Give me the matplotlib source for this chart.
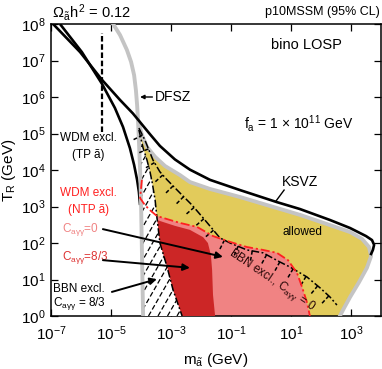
import numpy as np
import matplotlib
matplotlib.use("Agg")
import matplotlib.pyplot as plt
from matplotlib.patches import Polygon

plt.rcParams['font.family'] = ['Liberation Sans', 'DejaVu Sans']
plt.rcParams['mathtext.fontset'] = 'custom'
plt.rcParams['mathtext.rm'] = 'Liberation Sans'
plt.rcParams['mathtext.it'] = 'Liberation Sans'
plt.rcParams['mathtext.bf'] = 'Liberation Sans:bold'

# curves as log10(m / GeV), log10(T_R / GeV)
dfsz_tot_lm = [-6.70, -5.97, -5.30, -4.87, -4.60, -4.37, -4.23, -4.13, -4.07, -4.03]
dfsz_tot_lt = [8.00, 7.23, 6.36, 5.70, 5.18, 4.60, 4.14, 3.73, 3.40, 3.04]

ksvz_tot_lm = [-6.93, -6.03, -5.30, -4.70, -4.27, -4.00, -3.70, -3.37, -2.87, -2.37,
               -1.70, -0.70, 0.53, 1.30, 2.30, 2.97, 3.50, 3.70, 3.77, 3.73, 3.67]
ksvz_tot_lt = [8.00, 7.23, 6.47, 5.92, 5.55, 5.28, 4.98, 4.66, 4.29, 4.01,
               3.73, 3.45, 3.12, 2.93, 2.63, 2.41, 2.19, 2.08, 1.95, 1.81, 1.70]

dfsz_tp_lm = [-4.93, -4.70, -4.47, -4.33, -4.23, -4.17, -4.13, -4.10, -4.07, -4.03, -4.00, -3.97, -3.93]
dfsz_tp_lt = [8.00, 7.70, 7.29, 6.96, 6.60, 6.19, 5.78, 5.37, 4.82, 4.00, 3.18, 1.81, 0.00]

ksvz_tp_lm = [-4.10, -3.97, -3.80, -3.53, -3.20, -2.70, -2.37, -1.70, -0.70, 0.40, 1.30,
              2.30, 2.97, 3.37, 3.60, 3.67, 3.53, 3.27, 2.97, 2.73, 2.63]
ksvz_tp_lt = [5.37, 4.96, 4.63, 4.36, 4.11, 3.86, 3.67, 3.48, 3.26, 2.99, 2.77,
              2.49, 2.30, 2.11, 1.89, 1.64, 1.32, 0.93, 0.52, 0.16, 0.00]

# WDM / BBN exclusion, C_agg = 0 (red dash-dot)
wdm0_lm = [-3.97, -4.03, -3.87, -3.70, -3.47, -3.03, -2.70, -2.13, -1.60, -1.03, -0.47,
           0.07, 0.53, 0.90, 1.20, 1.37, 1.53, 1.63]
wdm0_lt = [3.73, 3.23, 3.04, 2.90, 2.74, 2.63, 2.55, 2.44, 2.19, 2.03, 1.89,
           1.81, 1.73, 1.53, 1.18, 0.79, 0.38, 0.00]

# exclusion, C_agg = 8/3 (dark red)
wdm83_lm = [-3.47, -2.87, -2.37, -1.93, -1.77, -1.67, -1.63, -1.60, -1.53]
wdm83_lt = [2.63, 2.47, 2.36, 2.16, 2.00, 1.67, 1.26, 0.58, 0.00]

# BBN exclusion C_agg = 8/3 (hatched edge)
bbn83_lm = [-4.07, -3.93, -3.80, -3.70, -3.63, -3.53, -3.47, -3.37, -3.13, -2.93, -2.63]
bbn83_lt = [5.10, 4.60, 4.27, 3.95, 3.67, 3.18, 2.71, 2.00, 1.34, 0.71, 0.00]

# BBN exclusion C_agg = 0 (dash-dot with ticks)
bbn0_lm = [-4.07, -3.87, -3.60, -3.37, -3.13, -2.70, -2.30, -1.87, -1.37, -1.03, -0.47,
           0.07, 0.63, 0.97, 1.53, 1.97, 2.30, 2.53]
bbn0_lt = [5.15, 4.82, 4.27, 3.95, 3.73, 3.37, 3.04, 2.63, 2.14, 2.00, 1.81,
           1.73, 1.48, 1.34, 1.07, 0.77, 0.52, 0.30]

wdm_tp_m = 10 ** -5.3
wdm_tp_lt = [5.05, 7.75]


def p(lm, lt):
    return 10 ** np.asarray(lm, float), 10 ** np.asarray(lt, float)


YELLOW = '#e2cb5b'
PINK = '#f08383'
DRED = '#cc2626'
RED = '#ff2020'
GRAY = '#c4c4c4'

fig = plt.figure(figsize=(3.82, 3.69), dpi=100)
ax = fig.add_axes([51 / 382, 53 / 369, 330 / 382, 292 / 369])
ax.set_xscale('log')
ax.set_yscale('log')
ax.set_xlim(1e-7, 1e4)
ax.set_ylim(1, 1e8)

# yellow allowed band
dm, dt = p(dfsz_tp_lm, dfsz_tp_lt)
km, kt = p(ksvz_tp_lm, ksvz_tp_lt)
sel = dt <= 10 ** 5.37
ax.fill(np.concatenate([dm[sel], km[::-1]]), np.concatenate([dt[sel], kt[::-1]]),
        color=YELLOW, lw=0, zorder=1)

# pink region C=0
wm, wt = p(wdm0_lm, wdm0_lt)
ax.fill(np.concatenate([wm, [10 ** -3.93]]), np.concatenate([wt, [1.0]]),
        color=PINK, lw=0, zorder=2)

# dark red region C=8/3
rm, rt = p(wdm83_lm, wdm83_lt)
ax.fill(np.concatenate([rm, [10 ** -3.93, 10 ** -3.93]]), np.concatenate([rt, [1.0, rt[0]]]),
        color=DRED, lw=0, zorder=3)

# hatched BBN region
bm, bt = p(bbn83_lm, bbn83_lt)
sel2 = dt < bt[0]
hx = np.concatenate([bm, dm[sel2][::-1]])
hy = np.concatenate([bt, dt[sel2][::-1]])
hatch = Polygon(np.column_stack([hx, hy]), closed=True, facecolor='white', lw=0, zorder=4)
ax.add_patch(hatch)
for x0 in np.arange(-1.0, 1.2, 9.5 / 330):
    ln, = ax.plot([x0, x0 + 168 / 330], [0, 1], transform=ax.transAxes, color='black',
                  lw=0.9, dashes=(4, 2), zorder=4.5)
    ln.set_clip_path(hatch)

# relic density curves
ax.plot(*p(dfsz_tot_lm, dfsz_tot_lt), color='black', lw=1.9, zorder=5, solid_capstyle='butt')
ax.plot(*p(ksvz_tp_lm, ksvz_tp_lt), color=GRAY, lw=2.8, zorder=5.5)
ax.plot(dm, dt, color=GRAY, lw=2.8, zorder=5.5)
ax.plot(*p(ksvz_tot_lm, ksvz_tot_lt), color='black', lw=1.9, zorder=6)

# dash-dot boundaries
ax.plot(bm, bt, color='black', lw=1.1, dashes=(5, 1.6, 1.2, 1.6), zorder=7)
b0m, b0t = p(bbn0_lm, bbn0_lt)
ax.plot(b0m, b0t, color='black', lw=1.1, dashes=(5, 1.6, 1.2, 1.6), zorder=7)
ax.plot(wm, wt, color=RED, lw=1.3, dashes=(5, 1.6, 1.2, 1.6), zorder=7.5)

# ticks on the C=0 BBN line
pts = ax.transData.transform(np.column_stack([b0m, b0t]))
seg = np.hypot(np.diff(pts[:, 0]), np.diff(pts[:, 1]))
s = np.concatenate([[0], np.cumsum(seg)])
inv = ax.transData.inverted()
for d in np.arange(8, s[-1] - 4, 15):
    i = min(np.searchsorted(s, d) - 1, len(seg) - 1)
    t = (d - s[i]) / seg[i]
    p0 = pts[i] + t * (pts[i + 1] - pts[i])
    v = (pts[i + 1] - pts[i]) / seg[i]
    n = np.array([v[1], -v[0]])
    q = inv.transform(np.vstack([p0, p0 + 11 * n]))
    ax.plot(q[:, 0], q[:, 1], color='black', lw=1.1, dashes=(2.5, 1.5), zorder=7)

# WDM TP vertical dashed line
ax.plot([wdm_tp_m, wdm_tp_m], 10 ** np.array(wdm_tp_lt), color='black', lw=1.6,
        dashes=(2.5, 1.2), zorder=7)

# labels
def axf(px, py):
    return ((px - 51) / 330, (316 - py) / 292)

ax.text(*axf(88, 138), 'WDM excl.', transform=ax.transAxes, ha='center', va='center', fontsize=8.5, zorder=9)
ax.text(*axf(88, 155), '(TP ã)', transform=ax.transAxes, ha='center', va='center', fontsize=8.5, zorder=9)
ax.text(*axf(88, 193), 'WDM excl.', transform=ax.transAxes, ha='center', va='center', fontsize=8.5, color=RED, zorder=9)
ax.text(*axf(89, 210), '(NTP ã)', transform=ax.transAxes, ha='center', va='center', fontsize=8.5, color=RED, zorder=9)
ax.text(*axf(62, 229), r'C$_{a\gamma\gamma}$=0', transform=ax.transAxes, ha='left', va='center', fontsize=8.5, color=PINK, zorder=9)
ax.text(*axf(62, 258), r'C$_{a\gamma\gamma}$=8/3', transform=ax.transAxes, ha='left', va='center', fontsize=8.5, color='#dd3333', zorder=9)
ax.text(*axf(53, 289), 'BBN excl.', transform=ax.transAxes, ha='left', va='center', fontsize=8.5, zorder=9)
ax.text(*axf(53, 304), r'C$_{a\gamma\gamma}$ = 8/3', transform=ax.transAxes, ha='left', va='center', fontsize=8.5, zorder=9)
ax.text(*axf(302, 232), 'allowed', transform=ax.transAxes, ha='center', va='center', fontsize=8.5, zorder=9)
ax.text(*axf(300, 182), 'KSVZ', transform=ax.transAxes, ha='center', va='center', fontsize=10, zorder=9)
ax.text(*axf(155, 97), 'DFSZ', transform=ax.transAxes, ha='left', va='center', fontsize=10, zorder=9)
ax.text(*axf(306, 45), 'bino LOSP', transform=ax.transAxes, ha='center', va='center', fontsize=10.5, zorder=9)
ax.text(*axf(299, 123), r'f$_{\rm a}$ = 1 $\times$ 10$^{11}$ GeV', transform=ax.transAxes,
        ha='center', va='center', fontsize=10, zorder=9)
ax.text(*axf(272, 280), r'BBN excl., C$_{a\gamma\gamma}$ = 0', transform=ax.transAxes,
        ha='center', va='center', fontsize=8.5, rotation=-34, color='#2a0808', zorder=9)

arrow = dict(arrowstyle='-|>', color='black', lw=1.4, mutation_scale=10, shrinkA=0, shrinkB=0)
ax.annotate('', xy=(10 ** -1.27, 10 ** 1.62), xytext=(10 ** -5.27, 10 ** 2.38), arrowprops=arrow, zorder=9)
ax.annotate('', xy=(10 ** -2.37, 10 ** 1.32), xytext=(10 ** -5.27, 10 ** 1.53), arrowprops=arrow, zorder=9)
ax.annotate('', xy=(10 ** -3.47, 10 ** 1.01), xytext=(10 ** -4.97, 10 ** 0.66), arrowprops=arrow, zorder=9)
ax.annotate('', xy=(10 ** -4.03, 10 ** 6.0), xytext=(10 ** -3.62, 10 ** 6.0),
            arrowprops=dict(arrowstyle='-|>', color='black', lw=1.0, mutation_scale=6, shrinkA=0, shrinkB=0), zorder=9)
ax.plot([10 ** 0.50, 10 ** 0.77], [10 ** 3.15, 10 ** 3.45], color='black', lw=1.0, zorder=9)

fig.text(52 / 382, 1 - 12 / 369, r'$\Omega_{\tilde{a}}h^2$ = 0.12', ha='left', va='center', fontsize=10.5)
fig.text(380 / 382, 1 - 12 / 369, 'p10MSSM (95% CL)', ha='right', va='center', fontsize=9)

ax.set_xticks([1e-7, 1e-5, 1e-3, 1e-1, 1e1, 1e3])
ax.set_yticks([10.0 ** k for k in range(9)])
ax.minorticks_off()
ax.tick_params(direction='in', length=5, width=0.9, top=True, right=True, labelsize=11)
ax.tick_params(axis='x', pad=6)
ax.tick_params(axis='y', pad=4)
for sp in ax.spines.values():
    sp.set_linewidth(1.1)
ax.set_xlabel(r'm$_{\tilde{a}}$ (GeV)', fontsize=11, labelpad=6)
ax.set_ylabel(r'T$_{\rm R}$ (GeV)', fontsize=11, labelpad=2)

fig.savefig('out.png', dpi=100)
